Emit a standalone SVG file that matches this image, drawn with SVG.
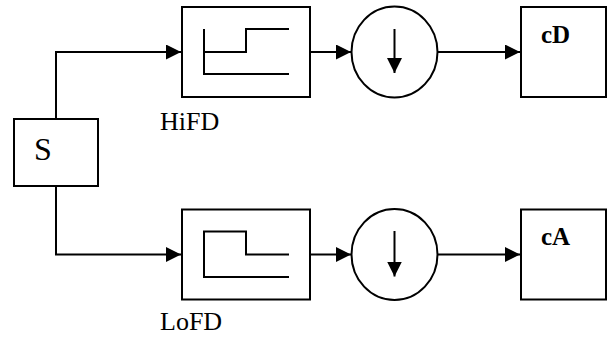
<svg xmlns="http://www.w3.org/2000/svg" width="608" height="338" viewBox="0 0 608 338">
  <style>
    .box { fill: #ffffff; stroke: #000000; stroke-width: 2; }
    .ln { fill: none; stroke: #000000; stroke-width: 2; }
    .lbl { font-family: "Liberation Serif", "Times New Roman", serif; fill: #000000; }
    .bold { font-weight: bold; }
  </style>
  <defs>
    <marker id="arrow" markerUnits="userSpaceOnUse" markerWidth="16" markerHeight="16" refX="15" refY="7.5" orient="auto" viewBox="0 0 16 16">
      <path d="M0,0 L15,7.5 L0,15 Z" fill="#000000"/>
    </marker>
  </defs>

  <g id="connectors">
    <path class="ln" d="M56 119 V52 H181" marker-end="url(#arrow)"/>
    <path class="ln" d="M56 186 V254.5 H181" marker-end="url(#arrow)"/>
    <path class="ln" d="M310 52 H351" marker-end="url(#arrow)"/>
    <path class="ln" d="M437.5 52 H520" marker-end="url(#arrow)"/>
    <path class="ln" d="M310 254.5 H351" marker-end="url(#arrow)"/>
    <path class="ln" d="M437.5 254.5 H520" marker-end="url(#arrow)"/>
  </g>

  <g id="S">
    <rect class="box" x="14" y="119" width="84" height="67"/>
    <text class="lbl" x="34" y="160" font-size="32">S</text>
  </g>

  <g id="HiFD">
    <rect class="box" x="182" y="7" width="128" height="90"/>
    <path class="ln" d="M204 29 V74 H289 M204 52 H246 V29 H289"/>
    <text class="lbl" x="160" y="130" font-size="26">HiFD</text>
  </g>

  <g id="LoFD">
    <rect class="box" x="182" y="209.5" width="128" height="90"/>
    <path class="ln" d="M289 254.5 H246 V231.5 H204 V277 H289"/>
    <text class="lbl" x="160" y="330" font-size="26">LoFD</text>
  </g>

  <g id="downHi">
    <ellipse class="box" cx="394.5" cy="52" rx="43" ry="45.5"/>
    <path class="ln" d="M394.5 29 V73" marker-end="url(#arrow)"/>
  </g>

  <g id="downLo">
    <ellipse class="box" cx="394.5" cy="254.5" rx="43" ry="45.5"/>
    <path class="ln" d="M394.5 231 V276.5" marker-end="url(#arrow)"/>
  </g>

  <g id="cD">
    <rect class="box" x="521" y="7" width="85" height="90"/>
    <text class="lbl bold" x="541" y="43" font-size="25">cD</text>
  </g>

  <g id="cA">
    <rect class="box" x="521" y="209.5" width="85" height="90"/>
    <text class="lbl bold" x="541" y="245" font-size="25">cA</text>
  </g>
</svg>
